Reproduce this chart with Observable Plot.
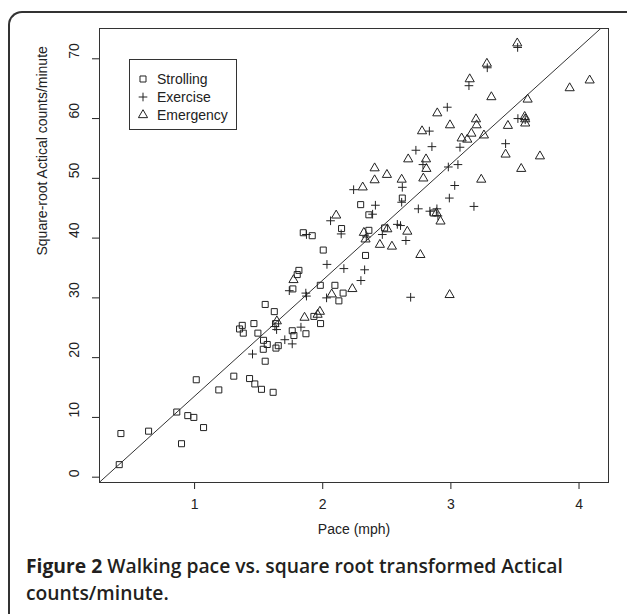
<!DOCTYPE html>
<html><head><meta charset="utf-8">
<script src="https://cdn.jsdelivr.net/npm/d3@7"></script>
<script src="https://cdn.jsdelivr.net/npm/@observablehq/plot@0.6"></script>
<style>
html,body{margin:0;padding:0;background:#fff;}
#wrap{position:relative;width:627px;height:614px;overflow:hidden;background:#fff;}
#border{position:absolute;left:8px;top:11px;width:700px;height:700px;border-left:2px solid #333;border-top:2px solid #333;border-top-left-radius:14px;}
#chart{position:absolute;left:0;top:0;}
#legend{position:absolute;left:129px;top:59px;width:106px;height:69px;border:1px solid #333;background:#fff;font:14px "Liberation Sans",Arial,sans-serif;color:#222;}
.row{position:absolute;left:0;width:105px;height:18px;}
.row svg{position:absolute;left:4px;top:0;}
.row span{position:absolute;left:27px;top:0;line-height:18px;white-space:nowrap;}
#caption{position:absolute;left:26px;top:553px;width:596px;font-family:"Open Sans",sans-serif;font-size:19.3px;line-height:26.5px;color:#231f20;font-weight:600;}
#caption .line{white-space:nowrap;height:26.5px;}
#caption b{font-weight:700;}
</style></head>
<body>
<div id="wrap">
  <div id="border"></div>
  <div id="chart"></div>
  <div id="legend"></div>
  <div id="caption"></div>
</div>
<script>
// ---- data ----
const seriesNames = ["Strolling", "Exercise", "Emergency"];

const strollingPace = [0.412,0.425,0.641,0.861,0.898,0.947,0.994,1.013,1.070,1.189,1.306,1.429,1.470,1.522,1.551,1.613,1.351,1.372,1.380,1.463,1.494,1.538,1.536,1.567,1.551,1.622,1.632,1.653,1.635,1.762,1.775,1.869,1.931,1.983,1.767,1.801,1.814,1.981,2.095,2.126,2.159,2.004,1.848,1.918,2.147,2.334,2.360,2.483,2.296,2.360,2.621,2.863];
const strollingCounts = [2.1,7.3,7.7,10.9,5.6,10.3,10.0,16.3,8.3,14.6,16.9,16.5,15.6,14.7,19.4,14.2,24.8,25.4,24.1,25.7,24.1,22.9,21.4,22.2,28.9,27.7,25.7,22.0,21.6,24.5,23.7,24.0,26.9,25.7,31.5,33.9,34.6,32.1,32.1,29.5,30.8,38.0,40.9,40.4,41.6,37.1,41.3,41.7,45.6,43.9,46.7,44.2];

const exercisePace = [1.452,1.627,1.640,1.704,1.762,1.830,1.739,1.868,1.873,2.030,2.033,2.165,2.327,2.298,2.686,1.873,2.144,2.061,2.241,2.389,2.411,2.340,2.465,2.582,2.607,2.649,2.621,2.616,2.746,2.836,2.891,2.899,2.782,2.980,3.055,3.030,2.988,3.180,2.727,2.852,2.832,3.071,2.972,3.141,3.284,3.521,3.427,3.523,3.580];
const exerciseCounts = [20.6,25.2,24.7,23.0,22.3,25.1,31.2,30.8,30.3,30.0,35.6,34.9,34.7,32.9,30.1,40.6,40.7,42.9,48.1,44.0,45.5,40.2,40.6,42.3,42.1,39.6,48.5,46.0,44.9,44.5,44.9,43.7,52.3,51.9,52.3,48.8,46.7,45.3,54.7,55.3,57.9,55.2,61.9,65.5,68.5,71.9,55.8,60.0,59.8];

const emergencyPace = [1.642,1.772,1.858,1.960,1.978,2.070,2.231,2.105,2.312,2.321,2.334,2.405,2.405,2.501,2.504,2.446,2.540,2.616,2.660,2.667,2.762,2.785,2.806,2.809,2.775,2.888,2.919,2.894,2.993,2.990,3.084,3.128,3.160,3.196,3.201,3.258,3.237,3.147,3.281,3.316,3.445,3.427,3.518,3.549,3.576,3.580,3.580,3.599,3.695,3.927,4.083];
const emergencyCounts = [26.1,33.0,26.7,27.2,27.7,30.6,31.5,43.8,48.5,40.9,39.8,51.7,49.7,50.6,41.5,38.9,38.6,49.8,41.1,53.2,37.2,50.0,53.2,51.6,57.9,44.2,42.8,60.9,58.9,30.5,56.7,56.5,57.5,59.9,58.9,57.2,49.8,66.6,69.2,63.6,58.8,54.0,72.6,51.6,60.3,59.9,59.2,63.2,53.7,65.1,66.4];

// fitted line y = intercept + slope * x
const fitIntercept = -5.85;
const fitSlope = 19.41;

const xTicks = [1, 2, 3, 4];
const yTicks = [0, 10, 20, 30, 40, 50, 60, 70];
const xLabel = "Pace (mph)";
const yLabel = "Square-root Actical counts/minute";
const captionLead = "Figure 2";
const captionLines = ["Walking pace vs. square root transformed Actical", "counts/minute."];

// ---- scales / layout config ----
const xDomain = [0.258, 4.23];
const yDomain = [-0.89, 75.07];
const ink = "#222";

const toRows = (xs, ys) => xs.map((x, i) => ({pace: x, counts: ys[i]}));
const strolling = toRows(strollingPace, strollingCounts);
const exercise = toRows(exercisePace, exerciseCounts);
const emergency = toRows(emergencyPace, emergencyCounts);

const x0 = Math.max(xDomain[0], (yDomain[0] - fitIntercept) / fitSlope);
const x1 = Math.min(xDomain[1], (yDomain[1] - fitIntercept) / fitSlope);
const fitLine = [x0, x1].map(x => ({pace: x, counts: fitIntercept + fitSlope * x}));

const symbolStyle = [
  {symbol: "square", r: 3.4},
  {symbol: "plus", r: 2.9},
  {symbol: "triangle", r: 3.4}
];

const plot = Plot.plot({
  width: 627,
  height: 560,
  marginLeft: 99, marginRight: 19, marginTop: 28, marginBottom: 78,
  style: {fontFamily: '"Liberation Sans", Arial, sans-serif', fontSize: "14px", color: ink, background: "transparent", overflow: "visible"},
  x: {domain: xDomain, ticks: xTicks, tickSize: 7, tickFormat: () => "", label: null},
  y: {domain: yDomain, ticks: yTicks, tickSize: 7, tickFormat: () => "", label: null},
  marks: [
    Plot.frame({stroke: "#333", strokeWidth: 1}),
    Plot.line(fitLine, {x: "pace", y: "counts", stroke: "#333", strokeWidth: 1}),
    Plot.dot(strolling, {x: "pace", y: "counts", ...symbolStyle[0], fill: "none", stroke: ink, strokeWidth: 1}),
    Plot.dot(exercise, {x: "pace", y: "counts", ...symbolStyle[1], fill: "none", stroke: ink, strokeWidth: 1}),
    Plot.dot(emergency, {x: "pace", y: "counts", ...symbolStyle[2], fill: "none", stroke: ink, strokeWidth: 1}),
    Plot.text(xTicks, {x: d => d, text: d => String(d), frameAnchor: "bottom", dy: 26, fill: ink}),
    Plot.text(yTicks, {y: d => d, text: d => String(d), frameAnchor: "left", dx: -25, rotate: -90, fill: ink}),
    Plot.text([xLabel], {text: d => d, frameAnchor: "bottom", dy: 51, fill: ink}),
    Plot.text([yLabel], {text: d => d, frameAnchor: "left", dx: -57, rotate: -90, fill: ink})
  ]
});
document.getElementById("chart").appendChild(plot);

// ---- caption ----
const caption = document.getElementById("caption");
captionLines.forEach((t, i) => {
  const line = document.createElement("div");
  line.className = "line";
  if (i === 0) {
    const b = document.createElement("b");
    b.textContent = captionLead;
    line.appendChild(b);
    line.appendChild(document.createTextNode(" "));
  }
  const span = document.createElement("span");
  span.textContent = t;
  line.appendChild(span);
  caption.appendChild(line);
});

// ---- legend ----
const legend = document.getElementById("legend");
const rowTops = [9.7, 28, 46];
seriesNames.forEach((name, i) => {
  const row = document.createElement("div");
  row.className = "row";
  row.style.top = rowTops[i] + "px";
  const s = symbolStyle[i];
  const symMap = {square: d3.symbolSquare, plus: d3.symbolPlus, triangle: d3.symbolTriangle};
  const path = d3.symbol(symMap[s.symbol], Math.PI * s.r * s.r)();
  row.innerHTML = `<svg width="18" height="18"><path transform="translate(9,9)" d="${path}" fill="none" stroke="${ink}" stroke-width="1"/></svg><span>${name}</span>`;
  legend.appendChild(row);
});
</script>
</body></html>
